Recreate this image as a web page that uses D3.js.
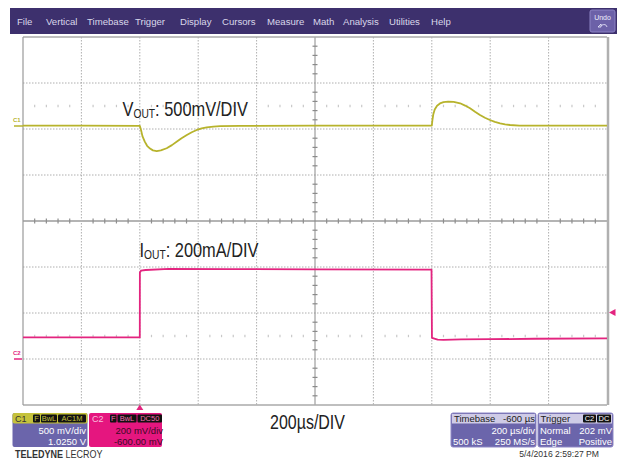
<!DOCTYPE html>
<html>
<head>
<meta charset="utf-8">
<script src="https://cdn.jsdelivr.net/npm/d3@7"></script>
<style>
  body { margin: 0; background: #fff; }
  svg { display: block; font-family: "Liberation Sans", Arial, sans-serif; }
</style>
</head>
<body>
<svg id="scope" width="617" height="460"></svg>
<script>
const menuItems = ['File', 'Vertical', 'Timebase', 'Trigger', 'Display', 'Cursors', 'Measure', 'Math', 'Analysis', 'Utilities', 'Help'];

// time in µs relative to trigger, 200 µs/div
const timeTicks = [-400, -200, 0, 200, 400, 600, 800, 1000, 1200, 1400, 1600];
const divTicks = [-4, -3, -2, -1, 0, 1, 2, 3, 4];

// C1 : Vout (AC coupled), mV
const c1Time = [-400, -200, 0, 4, 9, 17, 25, 35, 45, 58, 72, 92, 110, 126, 143, 161, 178, 195, 212, 229, 252, 275, 343, 600, 800, 1000,
                1002, 1005, 1010, 1018, 1028, 1040, 1056, 1075, 1097, 1114, 1131, 1148, 1165, 1182, 1199, 1216, 1234, 1251, 1268, 1300, 1336, 1600];
const c1mV   = [3, 3, 2, -40, -110, -170, -215, -245, -265, -272, -265, -242, -208, -171, -133, -98, -68, -43, -25, -14, -6, -2, 2, 3, 3, 3,
                60, 125, 180, 220, 245, 260, 266, 262, 247, 222, 192, 155, 120, 90, 65, 45, 29, 18, 11, 5, 3, 3];

// C2 : Iout, mA
const c2Time = [-400, -200, 0, 0.3, 4, 20, 100, 300, 600, 999, 1000.5, 1020, 1040, 1100, 1200, 1350, 1600];
const c2mA   = [94, 94, 94, 376, 384, 387, 392, 391, 390, 389, 92, 84, 83, 85, 86, 88, 90];

const c1Info = ['500 mV/div', '1.0250 V'];
const c2Info = ['200 mV/div', '-600.00 mV'];
const tbInfo = ['-600 µs', '200 µs/div', '500 kS', '250 MS/s'];
const trInfo = ['202 mV', 'Normal', 'Edge', 'Positive'];

// ---- layout ----
const svg = d3.select('#scope');
const gLeft = 23, gRight = 607, gTop = 37, gBottom = 405;
const C1 = '#b7b32c', C2 = '#e3247f', PURPLE = '#3d306d', BOX = '#6b65ab';
const NARROW = 0.82;  // no condensed face installed, squeeze horizontally

const x = d3.scaleLinear().domain([-400, 1600]).range([gLeft, gRight]);
const yDiv = d3.scaleLinear().domain([-4, 4]).range([gBottom, gTop]);
const y1 = d3.scaleLinear().domain([0, 500]).range([126, 80]);   // 500 mV/div
const y2 = d3.scaleLinear().domain([0, 200]).range([359, 313]);  // 200 mA/div

/////////////////////////////
// MENU BAR
/////////////////////////////
svg.append('rect').attr('x', 10).attr('y', 8).attr('width', 607).attr('height', 26).attr('fill', PURPLE);
const menuX = [17, 46, 87, 135, 180, 222, 267, 313, 343, 389, 431];
svg.append('g').selectAll('text').data(menuItems).enter().append('text')
  .attr('x', (d, i) => menuX[i]).attr('y', 24.5)
  .attr('font-size', 9.6).attr('fill', '#d9d7ea').text(d => d);

svg.append('rect').attr('x', 590).attr('y', 10).attr('width', 25).attr('height', 22).attr('rx', 2)
  .attr('fill', '#6c61a8').attr('stroke', '#8c83c4');
svg.append('text').attr('x', 602.5).attr('y', 19.5).attr('text-anchor', 'middle')
  .attr('font-size', 7).attr('fill', '#eeeeff').text('Undo');
svg.append('path').attr('d', 'M598,27 L601,24 L601,27 Z M601,25.5 Q606,23 607,27')
  .attr('fill', 'none').attr('stroke', '#eeeeff').attr('stroke-width', 0.8);

/////////////////////////////
// GRID
/////////////////////////////
const grid = svg.append('g');
grid.selectAll('.vgrid').data(timeTicks.filter(t => t > -400 && t < 1600 && t !== 600)).enter()
  .append('line')
    .attr('x1', d => x(d)).attr('x2', d => x(d)).attr('y1', gTop).attr('y2', gBottom)
    .attr('stroke', '#9a9a9a').attr('stroke-width', 0.8).attr('stroke-dasharray', '1.5,1.5');
grid.selectAll('.hgrid').data(divTicks.filter(d => Math.abs(d) < 4 && d !== 0)).enter()
  .append('line')
    .attr('y1', d => yDiv(d)).attr('y2', d => yDiv(d)).attr('x1', gLeft).attr('x2', gRight)
    .attr('stroke', '#9a9a9a').attr('stroke-width', 0.8).attr('stroke-dasharray', '1.5,1.5');

// minor ticks (5 per division)
const minorT = d3.range(-400, 1601, 40).filter(t => t % 200 !== 0);
const minorV = d3.range(-4, 4.01, 0.2).map(v => Math.round(v * 10) / 10).filter(v => Math.abs(v % 1) > 0.01);

// faint dotted rows
[2.5, -2.5].forEach(r => {
  grid.selectAll(null).data(minorT).enter().append('line')
    .attr('x1', d => x(d)).attr('x2', d => x(d)).attr('y1', yDiv(r) - 1.2).attr('y2', yDiv(r) + 1.2)
    .attr('stroke', '#c8c8c8').attr('stroke-width', 1.2);
});

// center axes
grid.append('line').attr('x1', gLeft).attr('x2', gRight).attr('y1', yDiv(0)).attr('y2', yDiv(0))
  .attr('stroke', '#b4b4b4').attr('stroke-width', 2);
grid.selectAll(null).data(minorT).enter().append('line')
  .attr('x1', d => x(d)).attr('x2', d => x(d)).attr('y1', yDiv(0) - 2.5).attr('y2', yDiv(0) + 2.5)
  .attr('stroke', '#8e8e8e').attr('stroke-width', 1.2);
grid.append('line').attr('x1', x(600)).attr('x2', x(600)).attr('y1', gTop).attr('y2', gBottom)
  .attr('stroke', '#8a8a8a').attr('stroke-width', 1);
grid.selectAll(null).data(minorV).enter().append('line')
  .attr('x1', x(600) - 2.5).attr('x2', x(600) + 2.5).attr('y1', d => yDiv(d)).attr('y2', d => yDiv(d))
  .attr('stroke', '#8a8a8a').attr('stroke-width', 1.2);

// frame
grid.append('line').attr('x1', gLeft).attr('x2', gRight).attr('y1', gTop).attr('y2', gTop).attr('stroke', '#aaa').attr('stroke-width', 1.5);
grid.append('line').attr('x1', gLeft).attr('x2', gRight).attr('y1', gBottom).attr('y2', gBottom).attr('stroke', '#aaa').attr('stroke-width', 1.5);
grid.append('line').attr('x1', gLeft).attr('x2', gLeft).attr('y1', gTop).attr('y2', gBottom).attr('stroke', '#999').attr('stroke-width', 1.2);
grid.append('line').attr('x1', gRight + 1).attr('x2', gRight + 1).attr('y1', gTop).attr('y2', gBottom).attr('stroke', '#b0b0b0').attr('stroke-width', 2.5);

/////////////////////////////
// TRACES
/////////////////////////////
const c1 = c1Time.map((t, i) => [t, c1mV[i]]);
const c2 = c2Time.map((t, i) => [t, c2mA[i]]);

svg.append('path').datum(c1)
  .attr('d', d3.line().x(d => x(d[0])).y(d => y1(d[1])))
  .attr('fill', 'none').attr('stroke', C1).attr('stroke-width', 1.8).attr('stroke-linejoin', 'round');
svg.append('path').datum(c2)
  .attr('d', d3.line().x(d => x(d[0])).y(d => y2(d[1])))
  .attr('fill', 'none').attr('stroke', C2).attr('stroke-width', 1.8).attr('stroke-linejoin', 'round');

// channel markers
svg.append('text').attr('x', 13).attr('y', 122).attr('font-size', 6).attr('fill', C1).attr('font-weight', 'bold').text('C1');
svg.append('line').attr('x1', 14).attr('x2', gLeft).attr('y1', y1(0)).attr('y2', y1(0)).attr('stroke', C1).attr('stroke-width', 1.5);
svg.append('text').attr('x', 13).attr('y', 355).attr('font-size', 6).attr('fill', C2).attr('font-weight', 'bold').text('C2');
svg.append('line').attr('x1', 14).attr('x2', 22).attr('y1', y2(0)).attr('y2', y2(0)).attr('stroke', C2).attr('stroke-width', 1.5);

// trigger markers
svg.append('path').attr('d', `M${x(0) - 3.5},410 L${x(0) + 3.5},410 L${x(0)},404.5 Z`).attr('fill', C2);
svg.append('path').attr('d', `M609,312.5 L615.5,309 L615.5,316 Z`).attr('fill', C2);

/////////////////////////////
// ANNOTATIONS
/////////////////////////////
function narrowText(xp, yp, size) {
  return svg.append('g').attr('transform', `translate(${xp},${yp}) scale(${NARROW},1)`)
    .append('text').attr('font-size', size).attr('fill', '#222');
}
function label(xp, yp, main, sub, rest) {
  const t = narrowText(xp, yp, 20);
  t.append('tspan').text(main);
  t.append('tspan').attr('font-size', 12.5).attr('dy', 2).text(sub);
  t.append('tspan').attr('dy', -2).text(rest);
}
label(122.5, 115.5, 'V', 'OUT', ': 500mV/DIV');
label(139.5, 256.5, 'I', 'OUT', ': 200mA/DIV');

narrowText(270, 428.5, 19.5).text('200µs/DIV');

/////////////////////////////
// INFO BOXES
/////////////////////////////
function tag(g, x0, w, txt, col) {
  g.append('rect').attr('x', x0).attr('y', 414.5).attr('width', w).attr('height', 8).attr('rx', 1).attr('fill', '#111');
  g.append('text').attr('x', x0 + w / 2).attr('y', 421.3).attr('text-anchor', 'middle')
    .attr('font-size', 7.5).attr('fill', col).text(txt);
}

// C1
const b1 = svg.append('g');
b1.append('rect').attr('x', 12.5).attr('y', 413).attr('width', 75).attr('height', 34).attr('rx', 2).attr('fill', BOX);
b1.append('rect').attr('x', 12.5).attr('y', 413).attr('width', 75).attr('height', 10.5).attr('rx', 2).attr('fill', '#c5c23b');
b1.append('text').attr('x', 15).attr('y', 421.5).attr('font-size', 9).attr('fill', '#333').text('C1');
tag(b1, 33, 7, 'F', '#c5c23b');
tag(b1, 41, 16, 'BwL', '#c5c23b');
tag(b1, 58, 28, 'AC1M', '#c5c23b');
b1.selectAll('.v').data(c1Info).enter().append('text')
  .attr('x', 86).attr('y', (d, i) => 434 + i * 10.5).attr('text-anchor', 'end')
  .attr('font-size', 9.5).attr('fill', '#fff').text(d => d);

// C2
const b2 = svg.append('g');
b2.append('rect').attr('x', 89).attr('y', 413).attr('width', 73).attr('height', 34).attr('rx', 2).attr('fill', '#e5167f');
b2.append('text').attr('x', 92).attr('y', 421.5).attr('font-size', 9).attr('fill', '#f7c0dc').text('C2');
tag(b2, 110, 6.5, 'F', '#f26fae');
tag(b2, 117.5, 19, 'BwL', '#f26fae');
tag(b2, 137.5, 24.5, 'DC50', '#f26fae');
b2.selectAll('.v').data(c2Info).enter().append('text')
  .attr('x', 163).attr('y', (d, i) => 434 + i * 10.5).attr('text-anchor', 'end')
  .attr('font-size', 9.5).attr('fill', '#3a0a24').text(d => d);

// timebase
const b3 = svg.append('g');
b3.append('rect').attr('x', 451).attr('y', 413).attr('width', 85).attr('height', 34).attr('rx', 2).attr('fill', BOX).attr('stroke', '#8f89c6');
b3.append('rect').attr('x', 452).attr('y', 414).attr('width', 83).attr('height', 9.5).attr('fill', '#cfcbe6');
b3.append('text').attr('x', 454).attr('y', 421.5).attr('font-size', 9.5).attr('fill', '#222').text('Timebase');
b3.append('text').attr('x', 535).attr('y', 421.5).attr('text-anchor', 'end').attr('font-size', 9.5).attr('fill', '#222').text(tbInfo[0]);
b3.append('text').attr('x', 535).attr('y', 434).attr('text-anchor', 'end').attr('font-size', 9.5).attr('fill', '#fff').text(tbInfo[1]);
b3.append('text').attr('x', 453).attr('y', 444.5).attr('font-size', 9.5).attr('fill', '#fff').text(tbInfo[2]);
b3.append('text').attr('x', 535).attr('y', 444.5).attr('text-anchor', 'end').attr('font-size', 9.5).attr('fill', '#fff').text(tbInfo[3]);

// trigger
const b4 = svg.append('g');
b4.append('rect').attr('x', 538).attr('y', 413).attr('width', 75).attr('height', 34).attr('rx', 2).attr('fill', BOX).attr('stroke', '#8f89c6');
b4.append('rect').attr('x', 539).attr('y', 414).attr('width', 73).attr('height', 9.5).attr('fill', '#cfcbe6');
b4.append('text').attr('x', 540.5).attr('y', 421.5).attr('font-size', 9.5).attr('fill', '#222').text('Trigger');
tag(b4, 583, 13, 'C2', '#fff');
tag(b4, 597, 14, 'DC', '#fff');
b4.append('text').attr('x', 612).attr('y', 434).attr('text-anchor', 'end').attr('font-size', 9.5).attr('fill', '#fff').text(trInfo[0]);
b4.append('text').attr('x', 540).attr('y', 434).attr('font-size', 9.5).attr('fill', '#fff').text(trInfo[1]);
b4.append('text').attr('x', 540).attr('y', 444.5).attr('font-size', 9.5).attr('fill', '#fff').text(trInfo[2]);
b4.append('text').attr('x', 612).attr('y', 444.5).attr('text-anchor', 'end').attr('font-size', 9.5).attr('fill', '#fff').text(trInfo[3]);

// footer
const logo = narrowText(15, 457.5, 11).attr('fill', '#333');
logo.append('tspan').attr('font-weight', 'bold').text('TELEDYNE ');
logo.append('tspan').text('LECROY');
svg.append('text').attr('x', 599).attr('y', 457).attr('text-anchor', 'end').attr('font-size', 8.6).attr('fill', '#333')
  .text('5/4/2016 2:59:27 PM');
</script>
</body>
</html>
